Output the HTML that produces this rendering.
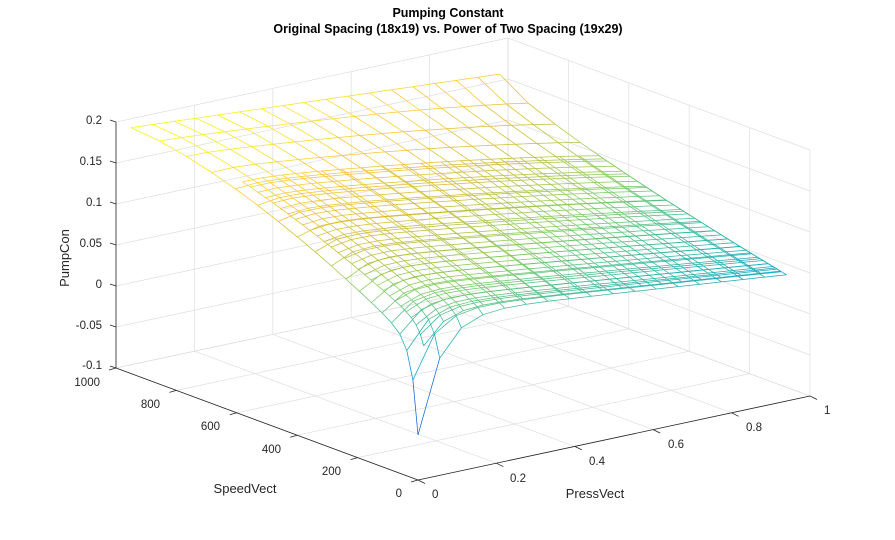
<!DOCTYPE html>
<html><head><meta charset="utf-8"><style>
html,body{margin:0;padding:0;background:#fff;}
svg{display:block;font-family:"Liberation Sans",Arial,sans-serif;}
</style></head><body>
<svg id="s" width="895" height="540" viewBox="0 0 895 540" xmlns="http://www.w3.org/2000/svg">
<rect width="895" height="540" fill="#fff"/>
<g id="grid" stroke="#dedede" stroke-width="0.7" fill="none"></g>
<g id="mesh" fill="none" stroke-width="0.75"></g>
<g id="axes" stroke="#262626" stroke-width="0.8" fill="none"></g>
<g fill="#262626" font-size="11.5">
<text x="102" y="124" text-anchor="end">0.2</text>
<text x="102" y="165" text-anchor="end">0.15</text>
<text x="102" y="206" text-anchor="end">0.1</text>
<text x="102" y="247" text-anchor="end">0.05</text>
<text x="102" y="288" text-anchor="end">0</text>
<text x="102" y="329" text-anchor="end">-0.05</text>
<text x="102" y="369" text-anchor="end">-0.1</text>
<text x="100" y="386" text-anchor="end">1000</text>
<text x="160" y="408" text-anchor="end">800</text>
<text x="220" y="430" text-anchor="end">600</text>
<text x="281" y="453" text-anchor="end">400</text>
<text x="341" y="475" text-anchor="end">200</text>
<text x="402" y="497" text-anchor="end">0</text>
<text x="432" y="498">0</text>
<text x="510" y="482">0.2</text>
<text x="589" y="465">0.4</text>
<text x="668" y="448">0.6</text>
<text x="746" y="431">0.8</text>
<text x="824" y="414">1</text>
</g>
<g fill="#262626" font-size="13">
<text x="245" y="493" text-anchor="middle">SpeedVect</text>
<text x="595" y="498" text-anchor="middle">PressVect</text>
<text transform="translate(69,258) rotate(-90)" text-anchor="middle">PumpCon</text>
</g>
<g fill="#000" font-size="12.5" font-weight="bold" text-anchor="middle">
<text x="448" y="17">Pumping Constant</text>
<text x="448" y="33">Original Spacing (18x19) vs. Power of Two Spacing (19x29)</text>
</g>
</svg>
<script>
(function(){
var NS="http://www.w3.org/2000/svg";
function P(p,s,z){return [418+392*p-302*s, 480-84*p-112*s-820*(z+0.1)];}
function line(g,a,b,col,w){var l=document.createElementNS(NS,"line");l.setAttribute("x1",a[0].toFixed(1));l.setAttribute("y1",a[1].toFixed(1));l.setAttribute("x2",b[0].toFixed(1));l.setAttribute("y2",b[1].toFixed(1));if(col)l.setAttribute("stroke",col);if(w)l.setAttribute("stroke-width",w);g.appendChild(l);}
var grid=document.getElementById("grid"),axes=document.getElementById("axes"),mesh=document.getElementById("mesh");
var i,v;
for(i=0;i<=6;i++){v=-0.1+0.05*i;line(grid,P(0,1,v),P(1,1,v));line(grid,P(1,1,v),P(1,0,v));}
for(i=0;i<=5;i++){v=0.2*i;line(grid,P(v,0,-0.1),P(v,1,-0.1));line(grid,P(v,1,-0.1),P(v,1,0.2));}
for(i=0;i<=5;i++){v=0.2*i;line(grid,P(0,v,-0.1),P(1,v,-0.1));line(grid,P(1,v,-0.1),P(1,v,0.2));}
line(axes,P(0,1,-0.1),P(0,1,0.2));
line(axes,P(0,0,-0.1),P(1,0,-0.1));
line(axes,P(0,0,-0.1),P(0,1,-0.1));
for(i=0;i<=6;i++){v=-0.1+0.05*i;var a=P(0,1,v);line(axes,a,[a[0]-6,a[1]-2]);}
for(i=0;i<=5;i++){v=0.2*i;var a=P(v,0,-0.1);line(axes,a,[a[0]+7,a[1]+3.5]);var b=P(0,v,-0.1);line(axes,b,[b[0]-7,b[1]+2]);}
function Z(p,s){
 var T=0.2-0.033*p;
 var F0=0.101-0.05*p-0.04*Math.exp(-p/0.05);
 var g=Math.pow(Math.max(0,(0.95-s)/0.95),1.6-0.95*p);
 return T-(T-F0)*g-0.106*Math.exp(-p/0.06)*Math.exp(-s/0.02);
}
var stops=[[0.2081,0.1663,0.5292],[0.0590,0.3598,0.8683],[0.0779,0.5040,0.8384],[0.0239,0.6287,0.8038],[0.1802,0.7178,0.6425],[0.5044,0.7993,0.3480],[0.8185,0.7327,0.1886],[0.9955,0.7861,0.1977],[0.9763,0.9831,0.0538]];
function col(z){var t=(z+0.045)/0.245;t=Math.max(0,Math.min(1,t));var f=t*8,k=Math.min(7,Math.floor(f)),u=f-k;var c=[0,1,2].map(function(j){return Math.round(255*(stops[k][j]+(stops[k+1][j]-stops[k][j])*u));});return "rgb("+c.join(",")+")";}
function drawMesh(ps,ss){
 var segs=[];
 for(var a=0;a<ps.length;a++)for(var b=0;b<ss.length;b++){
  var p=ps[a],s=ss[b],z=Z(p,s);
  if(a+1<ps.length){var p2=ps[a+1],z2=Z(p2,s);segs.push([p+p2+2*s,P(p,s,z),P(p2,s,z2),(z+z2)/2]);}
  if(b+1<ss.length){var s2=ss[b+1],z3=Z(p,s2);segs.push([2*p+s+s2,P(p,s,z),P(p,s2,z3),(z+z3)/2]);}
 }
 return segs;
}
function lin(a,b,n){var r=[];for(var k=0;k<n;k++)r.push(a+(b-a)*k/(n-1));return r;}
var cs=[];for(i=0;i<19;i++){var t=i/18;cs.push(0.95*(0.3*t+0.7*Math.pow(t,2.2)));}
var all=drawMesh(lin(0,0.94,18),cs);
var ds=[];for(i=0;i<29;i++)ds.push(0.02+0.6*Math.pow(i/28,1.2));
all=all.concat(drawMesh(lin(0.03,0.94,19),ds));
all.sort(function(x,y){return y[0]-x[0];});
all.forEach(function(sg){line(mesh,sg[1],sg[2],col(sg[3]));});
})();
</script>
</body></html>
